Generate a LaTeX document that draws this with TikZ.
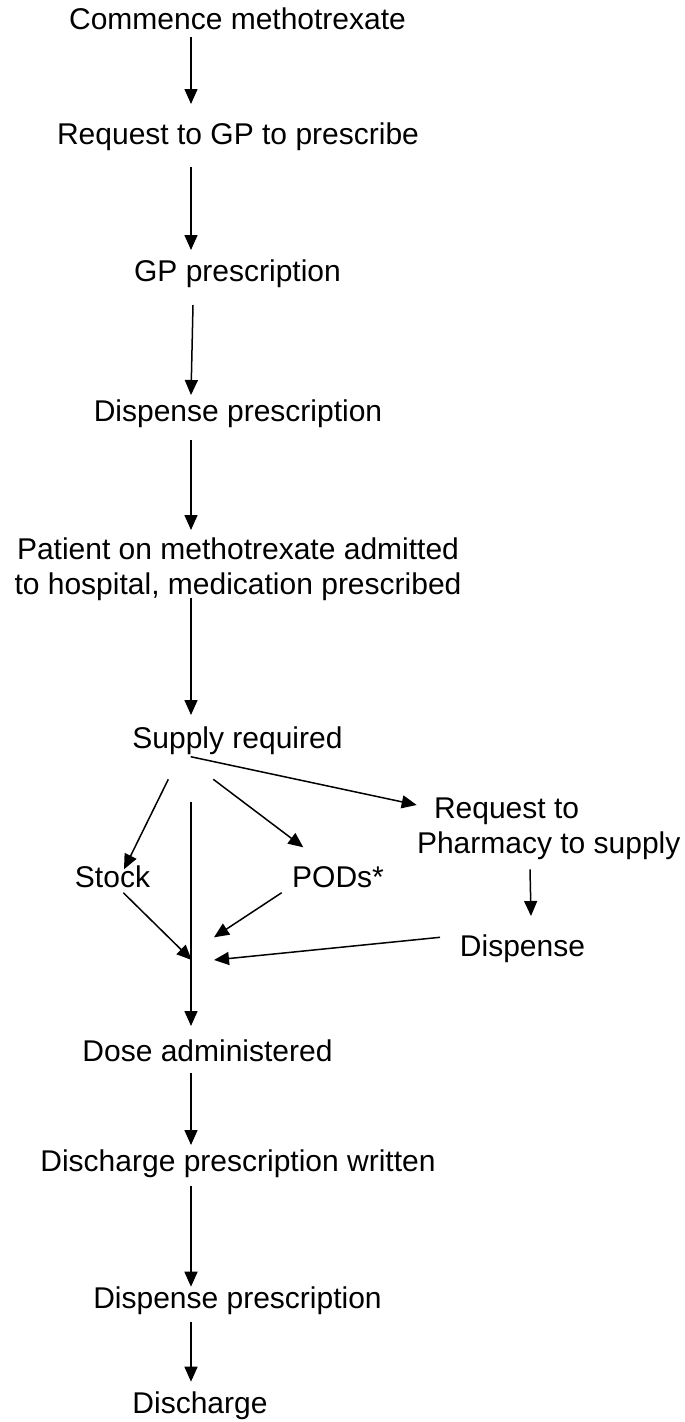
\documentclass[tikz,border=0pt]{standalone}
\usepackage{fontspec}
\setmainfont{Liberation Sans}
\usetikzlibrary{arrows.meta,calc}
\begin{document}
\begin{tikzpicture}[x=1pt,y=-1pt,
  lbl/.style={inner sep=0pt, outer sep=0pt, anchor=base, font=\fontsize{30}{35}\selectfont},
  arr/.style={line width=1.5pt, -{Triangle[length=15pt,width=13pt]}}]
\useasboundingbox (0,0) rectangle (685,1422);
\coordinate (spine) at (191,0);
% nodes (multi-line nodes: base anchor = last line)
\node[lbl] (c1) at (237.5,29.3) {Commence methotrexate};
\node[lbl] (c2) at (238,144) {Request to GP to prescribe};
\node[lbl] (c3) at (237.5,281.5) {GP prescription};
\node[lbl] (c4) at (238,421) {Dispense prescription};
\node[lbl, align=center] (c5) at (238,594) {Patient on methotrexate admitted\\to hospital, medication prescribed};
\node[lbl] (c6) at (237.5,748.3) {Supply required};
\node[lbl] (stock) at (112.5,887.7) {Stock};
\node[lbl] (pods) at (338,887.7) {PODs*};
\node[lbl, align=left, anchor=base west] (req) at (417,853) {\hspace*{17pt}Request to\\Pharmacy to supply};
\node[lbl] (disp) at (522.5,956.7) {Dispense};
\node[lbl] (dose) at (207.5,1061.7) {Dose administered};
\node[lbl] (dpw) at (238,1171) {Discharge prescription written};
\node[lbl] (disp2) at (237.5,1308.3) {Dispense prescription};
\node[lbl] (disch) at (200,1413.3) {Discharge};
% merge points
\coordinate (m1) at (191.7,960);
\coordinate (m2) at (214,937.3);
\coordinate (m3) at (214,960);
% connectors
\draw[arr] ($(c1.base -| spine)+(0,8)$) -- ($(c2.base -| spine)+(0,-40)$);
\draw[arr] ($(c2.base -| spine)+(0,22.7)$) -- ($(c3.base -| spine)+(0,-31.5)$);
\draw[arr] ($(c3.base -| spine)+(2,23.5)$) -- ($(c4.base -| spine)+(0,-26)$);
\draw[arr] ($(c4.base -| spine)+(0,19)$) -- ($(c5.base -| spine)+(0,-64)$);
\draw[arr] ($(c5.base -| spine)+(0,4.3)$) -- ($(c6.base -| spine)+(0,-33.3)$);
\draw[arr] ($(c6.base)+(-69.2,31)$) -- ($(stock.base)+(11.5,-18.4)$);
\draw[arr] ($(c6.base)+(-24.2,31)$) -- ($(pods.base)+(-34.7,-40.4)$);
\draw[arr] ($(c6.base)+(-46.8,8.4)$) -- ($(req.base west)+(-0.3,-48)$);
\draw[arr] ($(c6.base -| spine)+(0,53.4)$) -- ($(dose.base -| spine)+(0,-35.7)$);
\draw[arr] ($(stock.base)+(10.8,5)$) -- (m1);
\draw[arr] ($(pods.base)+(-56.3,5)$) -- (m2);
\draw[arr] ($(req.base west)+(113,16.3)$) -- ($(disp.base)+(8.5,-40.7)$);
\draw[arr] ($(disp.base)+(-82.5,-19.4)$) -- (m3);
\draw[arr] ($(dose.base -| spine)+(0,11)$) -- ($(dpw.base -| spine)+(0,-26)$);
\draw[arr] ($(dpw.base -| spine)+(0,14.7)$) -- ($(disp2.base -| spine)+(0,-21.6)$);
\draw[arr] ($(disp2.base -| spine)+(0,13.4)$) -- ($(disch.base -| spine)+(0,-31.6)$);
\end{tikzpicture}
\end{document}
